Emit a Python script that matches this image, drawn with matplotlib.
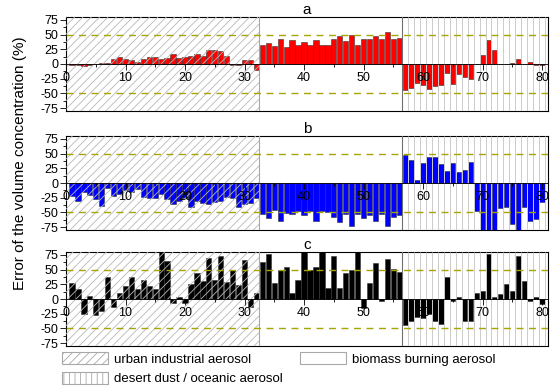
import numpy as np
import matplotlib.pyplot as plt
from matplotlib.patches import Patch
from matplotlib.ticker import MultipleLocator

plt.rcParams['font.family'] = ['Liberation Sans', 'DejaVu Sans']
plt.rcParams['axes.unicode_minus'] = False
plt.rcParams['hatch.linewidth'] = 0.6

# sample index and aerosol type boundaries
samples = np.arange(1, 81)
urban_end = 32.5
biomass_end = 56.5
x_max = 81

# error of the volume concentration (%)
err_a = [-2, -1, -3, -1, 0, 1, 2, 8, 12, 8, 6, 3, 9, 12, 12, 8,
         11, 17, 10, 12, 14, 17, 14, 24, 24, 22, 14, -1, -2, 6, 6, -10,
         32, 35, 30, 43, 29, 41, 33, 37, 32, 40, 33, 33, 43, 48, 39, 49,
         32, 42, 42, 48, 42, 55, 43, 45,
         -44, -41, -32, -36, -42, -38, -35, -16, -34, -17, -22, -26,
         0, 16, 41, 23, 0, 0, 1, 9, 0, 3, -1, -1]
err_b = [-22, -30, -15, -21, -28, -39, -9, -22, -19, -12, -15, -11, -24, -26, -26, -18,
         -28, -35, -30, -26, -40, -31, -34, -36, -32, -31, -24, -26, -40, -36, -34, -26,
         -52, -59, -46, -65, -51, -53, -47, -55, -48, -65, -48, -50, -58, -67, -53, -74,
         -52, -59, -55, -64, -53, -73, -57, -55,
         48, 40, 6, 34, 44, 44, 32, 21, 34, 19, 23, 35,
         -47, -80, -80, -80, -42, -40, -70, -80, -40, -64, -62, -32]
err_c = [28, 17, -26, 5, -27, -20, 37, -14, 10, 22, 37, 17, 32, 23, 17, 80,
         64, -7, 3, -7, 26, 44, 30, 70, 33, 73, 29, 49, 24, 67, -14, 10,
         63, 77, 27, 49, 54, 10, 32, 80, 49, 55, 80, 18, 73, 19, 44, 49,
         80, -15, 28, 62, -3, 68, 51, 46,
         -44, -37, -31, -32, -25, -37, -43, 38, -3, 3, -37, -37,
         10, 14, 76, 3, 9, 25, 14, 74, 30, -4, 3, -8]

panel_labels = ['a', 'b', 'c']
bar_colors = ['#ff0000', '#0000ff', '#000000']
legend_labels = ['urban industrial aerosol', 'desert dust / oceanic aerosol',
                 'biomass burning aerosol']

fig = plt.figure(figsize=(5.5, 3.89), dpi=100)
panel_bottoms = [0.7147, 0.4087, 0.1105]


def draw_panel(ax, values, color, label):
    ax.bar(samples, values, width=0.9, color=color, edgecolor='#333333',
           linewidth=0.4, zorder=2)
    # region patterns sit on top of the bars, like the original
    ax.axvspan(0, urban_end, facecolor='none', edgecolor='#b8b8b8',
               hatch='////', linewidth=0, zorder=3)
    ax.vlines(np.arange(biomass_end + 1, x_max, 1.0), -80, 80,
              color='#cccccc', linewidth=0.7, zorder=3)
    ax.axvline(urban_end, color='#a8a8a8', linewidth=0.8, zorder=4)
    ax.axvline(biomass_end, color='#707070', linewidth=0.8, zorder=4)
    for lvl in (50, -50):
        ax.axhline(lvl, color='#a6a600', linewidth=1.0,
                   linestyle=(0, (5, 4)), zorder=4)

    ax.set_xlim(0, x_max)
    ax.set_ylim(-80, 80)
    ax.xaxis.set_major_locator(MultipleLocator(10))
    ax.xaxis.set_minor_locator(MultipleLocator(5))
    ax.yaxis.set_major_locator(MultipleLocator(25))
    ax.yaxis.set_minor_locator(MultipleLocator(12.5))
    ax.tick_params(which='major', direction='out', length=4, width=0.6,
                   labelsize=9, pad=1.5)
    ax.tick_params(which='minor', direction='out', length=2, width=0.6)
    ax.xaxis.set_zorder(6)
    ax.yaxis.set_zorder(6)

    ax.spines['bottom'].set_position(('data', 0))
    ax.spines['bottom'].set_linewidth(0.6)
    ax.spines['bottom'].set_zorder(5)
    for side in ('top', 'left', 'right'):
        ax.spines[side].set_linewidth(0.8)
    ax.plot([0, 1], [0, 0], transform=ax.transAxes, color='k',
            linewidth=0.8, clip_on=False)
    ax.set_title(label, fontsize=11, pad=2)


for bottom, values, color, label in zip(panel_bottoms, [err_a, err_b, err_c],
                                        bar_colors, panel_labels):
    ax = fig.add_axes([0.12, bottom, 0.8764, 0.2416])
    draw_panel(ax, values, color, label)

fig.text(0.036, 0.58, 'Error of the volume concentration (%)', rotation=90,
         ha='center', va='center', fontsize=11)

handles = [
    Patch(facecolor='white', edgecolor='#a8a8a8', hatch='////', linewidth=0.8),
    Patch(facecolor='white', edgecolor='#a8a8a8', hatch='|||', linewidth=0.8),
    Patch(facecolor='white', edgecolor='#a8a8a8', linewidth=0.8),
]
fig.legend(handles, legend_labels, loc='upper left',
           bbox_to_anchor=(62 / 550, 1 - 352 / 389), ncol=2, frameon=False,
           fontsize=9.5, handlelength=3.5, handleheight=1.05,
           handletextpad=0.45, columnspacing=1.3, labelspacing=0.45,
           borderpad=0, borderaxespad=0)

fig.savefig('out.png', dpi=100)
